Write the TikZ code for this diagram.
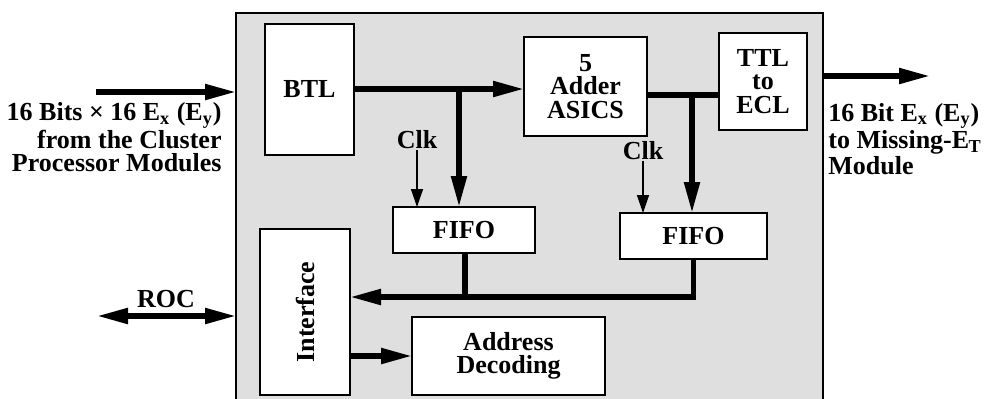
\documentclass[tikz,border=0pt]{standalone}
\usepackage{fontspec}
\setmainfont{Liberation Serif}
\usetikzlibrary{arrows.meta}

\begin{document}
\begin{tikzpicture}[x=0.5pt,y=-0.5pt,>={Triangle[length=15.5pt,width=7.5pt]}]

	\tikzstyle box lines=[draw, line width=1.2pt, fill=white, inner sep=0pt, outer sep=0pt, align=center, font=\bfseries\fontsize{13}{11.75}\selectfont];
	\tikzstyle text lines=[inner sep=0pt, font=\bfseries\fontsize{13}{11.5}\selectfont];
	\tikzstyle data lines=[line width=2.6pt];
	\tikzstyle clk lines=[line width=0.7pt, -{Triangle[length=9pt,width=6pt]}];

	\useasboundingbox (0,0) rectangle (986,398);

	% crate and its modules
	\node[box lines, fill=gray!25, minimum width=293.5pt, minimum height=198.5pt] (crate) at (529.5,211.5) {};
	\node[box lines, minimum width=44.5pt, minimum height=65.5pt] (btl) at (309.5,89.5) {BTL};
	\node[box lines, minimum width=61.5pt, minimum height=49.5pt] (adder) at (585.5,86.5) {5\\Adder\\ASICS};
	\node[box lines, minimum width=44pt, minimum height=48.5pt] (ttl) at (763,81.5) {TTL\\to\\ECL};
	\node[box lines, minimum width=71pt, minimum height=23pt] (fifoA) at (464,230) {FIFO};
	\node[box lines, minimum width=73.5pt, minimum height=23pt] (fifoB) at (693.5,236) {FIFO};
	\node[box lines, minimum width=45pt, minimum height=83pt] (iface) at (305,312) {};
		\node[text lines, rotate=90] at (iface) {Interface};
	\node[box lines, minimum width=96.5pt, minimum height=39pt] (addr) at (508.5,356) {Address\\Decoding};

	\node[text lines] (clkA) at (417,140) {Clk};
	\node[text lines] (clkB) at (643,151) {Clk};

	\coordinate (tapA) at (459,89);
	\coordinate (tapB) at (692,95);
	\coordinate (join) at (465,297);

	% data paths
	\draw[data lines, ->] (btl.east |- tapA) -- (adder.west |- tapA);
	\draw[data lines, ->] (tapA) -- (tapA |- fifoA.north);
	\draw[data lines] (adder.east |- tapB) -- (ttl.west |- tapB);
	\draw[data lines, ->] (tapB) -- (tapB |- fifoB.north);
	\draw[data lines] (fifoA.south -| join) -- (join);
	\draw[data lines, ->] (fifoB.south) |- (iface.east |- join);
	\draw[data lines, ->] (iface.east |- addr) -- (addr.west);

		\foreach \f in {A,B}
			\draw[clk lines] (clk\f.south) -- (clk\f.south |- fifo\f.north);

	% outside connections
	\coordinate (inA) at (96,92);
	\coordinate (outA) at (930,76);
	\coordinate (roc) at (97,316);

	\draw[data lines, ->] (inA) -- (inA -| crate.west);
	\draw[data lines, ->] (outA -| crate.east) -- (outA);
	\draw[data lines, <->] (roc) -- (roc -| crate.west);

	\node[text lines, anchor=east, align=right] (inlabel) at (222,137) {16 Bits \texttimes{} 16 E\textsubscript{x} (E\textsubscript{y})\\from the Cluster\\Processor Modules};
	\node[text lines, anchor=west, align=left] (outlabel) at (828,139) {16 Bit E\textsubscript{x} (E\textsubscript{y})\\to Missing-E\kern-0.3pt\textsubscript{T}\\Module};
	\node[text lines] (roclabel) at (166,299) {ROC};

\end{tikzpicture}
\end{document}
